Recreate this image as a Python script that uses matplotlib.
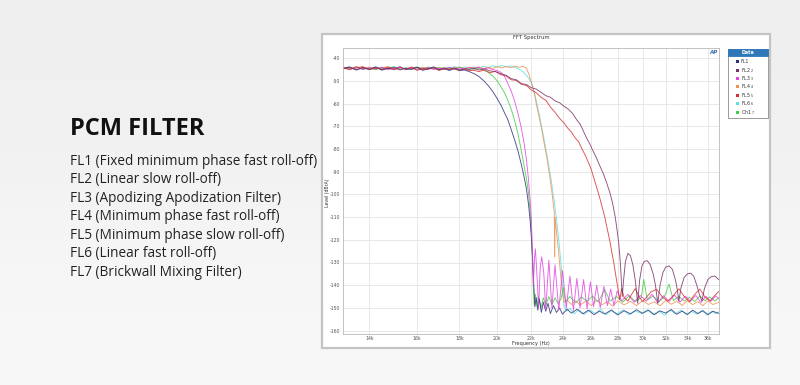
# =============================================================================
# plot.py
# PCM filter page: left text block + FFT spectrum panel of the 7 filters
# =============================================================================

import matplotlib
matplotlib.use("Agg")
import numpy as np
import matplotlib.pyplot as plt
from matplotlib.colors import LinearSegmentedColormap
from matplotlib.patches import Rectangle
from matplotlib.ticker import FixedLocator, NullLocator

# -----------------------------------------------------------------------------
# Data (frequency in kHz, level in dB)
# -----------------------------------------------------------------------------
SERIES_NAMES = ["FL1", "FL2", "FL3", "FL4", "FL5", "FL6", "Ch1"]
SERIES_INDEX = ["", "2", "3", "4", "5", "6", "7"]
SERIES_COLORS = ["#2e3378", "#7a3266", "#e245e2", "#f29050", "#d83030", "#58e2e2", "#44cc44"]

FILTER_LINES = [
    "FL1 (Fixed minimum phase fast roll-off)",
    "FL2 (Linear slow roll-off)",
    "FL3 (Apodizing Apodization Filter)",
    "FL4 (Minimum phase fast roll-off)",
    "FL5 (Minimum phase slow roll-off)",
    "FL6 (Linear fast roll-off)",
    "FL7 (Brickwall Mixing Filter)",
]

X_TICKS_KHZ = [14, 16, 18, 20, 22, 24, 26, 28, 30, 32, 34, 36]
X_TICK_LABELS = ["14k", "16k", "18k", "20k", "22k", "24k", "26k", "28k", "30k", "32k", "34k", "36k"]
Y_TICKS_DB = [-40, -50, -60, -70, -80, -90, -100, -110, -120, -130, -140, -150, -160]

# passband, shared by every curve
FLAT_KHZ = [13.0, 13.25, 13.5, 13.75, 14.0, 14.25, 14.5, 14.75, 15.0, 15.25, 15.5, 15.75,
            16.0, 16.25, 16.5, 16.75, 17.0, 17.25, 17.5, 17.75, 18.0, 18.25, 18.5]

FL1_FLAT_DB = [-44.6, -43.8, -45.2, -44.1, -45.0, -43.9, -45.3, -44.4, -44.9, -43.7, -45.1, -44.5,
               -44.0, -45.2, -44.6, -43.9, -45.0, -44.6, -45.4, -44.7, -45.5, -45.2, -45.9]
FL1_TAIL_KHZ = [18.75, 19.0, 19.25, 19.5, 19.75, 20.0, 20.2, 20.4, 20.6, 20.8, 21.0, 21.2, 21.4,
                21.55, 21.7, 21.82, 21.92, 22.0, 22.08, 22.15, 22.22, 22.3, 22.4, 22.5, 22.62,
                22.75, 22.9, 23.05, 23.2, 23.4, 23.6, 23.8, 24.0, 24.3, 24.6, 25.0, 25.4, 25.8,
                26.2, 26.6, 27.0, 27.5, 28.0, 28.5, 29.0, 29.5, 30.0, 30.5, 31.0, 31.5, 32.0,
                32.5, 33.0, 33.5, 34.0, 34.5, 35.0, 35.5, 36.0, 36.5, 37.1]
FL1_TAIL_DB = [-46.8, -48.0, -49.8, -52.0, -54.6, -57.8, -60.5, -63.8, -67.0, -71.5, -76.0, -81.0,
               -87.0, -92.0, -97.5, -104.0, -111.0, -119.0, -129.0, -140.0, -149.5, -145.5,
               -151.0, -146.0, -152.0, -147.5, -151.5, -148.0, -152.5, -149.0, -152.0, -150.0,
               -152.8, -150.5, -152.3, -150.6, -152.6, -151.0, -153.0, -151.4, -152.7, -150.9,
               -153.1, -151.2, -152.6, -150.8, -152.4, -151.0, -153.0, -151.3, -152.3, -150.7,
               -152.8, -151.4, -152.9, -151.0, -152.5, -151.2, -153.0, -151.5, -152.4]

FL2_FLAT_DB = [-44.6, -44.0, -45.1, -44.3, -44.8, -43.9, -45.0, -44.5, -44.1, -45.2, -44.4, -44.9,
               -44.0, -45.3, -44.7, -44.2, -45.1, -44.5, -44.9, -44.3, -45.2, -44.7, -45.0]
FL2_TAIL_KHZ = [18.75, 19.0, 19.3, 19.6, 19.9, 20.2, 20.5, 20.8, 21.1, 21.4, 21.7, 22.0, 22.3,
                22.6, 22.9, 23.2, 23.5, 23.8, 24.1, 24.4, 24.7, 24.95, 25.2, 25.4, 25.65, 25.9,
                26.1, 26.35, 26.6, 26.9, 27.15, 27.4, 27.6, 27.8, 27.95, 28.07, 28.17, 28.25,
                28.35, 28.45, 28.6, 28.8, 29.0, 29.2, 29.4, 29.6, 29.75, 29.95, 30.15, 30.4,
                30.65, 30.9, 31.1, 31.3, 31.5, 31.75, 32.0, 32.3, 32.6, 32.9, 33.05, 33.2, 33.4,
                33.7, 34.0, 34.3, 34.6, 34.9, 35.15, 35.4, 35.65, 36.0, 36.35, 36.7, 37.1]
FL2_TAIL_DB = [-44.4, -45.2, -44.7, -45.6, -45.9, -46.8, -47.5, -49.0, -49.5, -51.2, -51.6, -53.0,
               -53.6, -55.0, -56.5, -57.2, -58.8, -59.6, -61.2, -62.5, -64.5, -67.0, -69.0, -71.6,
               -75.0, -77.8, -80.5, -83.5, -87.0, -91.0, -95.0, -99.5, -104.0, -110.0, -116.0,
               -121.5, -128.0, -135.0, -145.0, -138.0, -129.5, -126.0, -127.0, -131.0, -138.0,
               -148.0, -138.0, -131.5, -129.5, -129.2, -131.0, -135.0, -140.0, -148.0, -140.0,
               -134.5, -132.0, -131.5, -133.0, -138.0, -142.0, -147.0, -141.0, -136.5, -135.0,
               -134.7, -136.0, -140.0, -144.0, -147.0, -141.5, -137.5, -136.2, -136.0, -137.5]

FL3_FLAT_DB = [-44.3, -44.9, -43.8, -45.0, -44.2, -44.7, -43.9, -45.1, -44.5, -44.0, -44.8, -44.3,
               -45.2, -44.6, -44.1, -45.0, -44.4, -44.8, -44.0, -44.9, -44.3, -44.6, -44.1]
FL3_TAIL_KHZ = [18.75, 19.0, 19.25, 19.5, 19.75, 20.0, 20.2, 20.4, 20.6, 20.8, 21.0, 21.2, 21.4,
                21.55, 21.7, 21.82, 21.92, 22.0, 22.05, 22.12, 22.2, 22.25, 22.32, 22.45, 22.55,
                22.65, 22.78, 22.9, 23.1, 23.3, 23.5, 23.75, 24.0, 24.25, 24.5, 24.74, 24.98,
                25.2, 25.45, 25.7, 25.94, 26.17, 26.4, 26.66, 26.93, 27.2, 27.45, 27.7, 27.95,
                28.3, 28.8, 29.3, 29.8, 30.3, 30.8, 31.3, 31.8, 32.3, 32.8, 33.3, 33.8, 34.3,
                34.8, 35.3, 35.8, 36.3, 36.8, 37.1]
FL3_TAIL_DB = [-44.5, -44.0, -44.8, -44.3, -45.0, -45.4, -46.2, -47.8, -51.0, -54.5, -59.0, -64.5,
               -71.0, -77.0, -84.5, -93.0, -102.0, -111.0, -121.0, -140.0, -128.0, -124.0,
               -132.0, -150.0, -132.0, -127.5, -135.0, -151.0, -129.0, -150.0, -131.0, -151.0,
               -133.5, -150.0, -136.0, -151.0, -137.0, -150.0, -137.5, -150.5, -138.5, -149.5,
               -140.0, -150.0, -140.5, -149.0, -141.7, -149.0, -142.5, -147.0, -144.0, -147.5,
               -144.5, -147.0, -144.0, -147.8, -144.6, -147.2, -144.3, -147.5, -144.8, -147.0,
               -144.5, -147.6, -144.9, -147.1, -144.7, -146.0]

FL4_FLAT_DB = [-44.0, -44.7, -43.6, -44.5, -43.9, -44.8, -44.2, -43.7, -44.6, -44.1, -44.9, -43.8,
               -44.4, -44.0, -44.7, -43.9, -44.5, -44.1, -44.8, -44.2, -43.9, -44.6, -44.0]
FL4_TAIL_KHZ = [18.75, 19.0, 19.25, 19.5, 19.75, 20.0, 20.25, 20.5, 20.75, 21.0, 21.25, 21.5,
                21.7, 21.85, 22.0, 22.15, 22.33, 22.5, 22.65, 22.8, 22.96, 23.1, 23.2, 23.3,
                23.4, 23.45, 23.48, 23.51, 23.6, 23.7, 23.8, 23.9, 24.0, 24.1, 24.3, 24.6, 24.9,
                25.2, 25.6, 26.0, 26.4, 26.8, 27.2, 27.6, 28.0, 28.5, 29.0, 29.5, 30.0, 30.5,
                31.0, 31.5, 32.0, 32.5, 33.0, 33.5, 34.0, 34.5, 35.0, 35.5, 36.0, 36.5, 37.1]
FL4_TAIL_DB = [-44.3, -43.8, -44.6, -44.0, -44.5, -43.7, -44.3, -43.6, -44.2, -43.5, -44.0, -43.6,
               -44.4, -47.0, -50.5, -54.5, -61.0, -66.5, -71.6, -77.5, -83.3, -89.5, -94.0, -99.0,
               -105.0, -108.0, -127.5, -110.0, -116.5, -123.0, -130.0, -137.5, -144.0, -147.5,
               -146.5, -148.5, -146.8, -148.8, -147.0, -149.0, -146.6, -148.6, -147.2, -149.2,
               -146.9, -148.7, -147.1, -149.0, -146.8, -148.5, -147.3, -149.1, -146.7, -148.4,
               -147.0, -148.9, -146.8, -148.6, -147.2, -149.0, -146.9, -148.5, -147.6]

FL5_FLAT_DB = [-44.1, -44.9, -44.3, -43.7, -45.0, -44.4, -44.8, -43.9, -45.1, -44.2, -44.7, -44.0,
               -45.3, -44.5, -44.9, -44.1, -45.4, -44.6, -45.0, -44.4, -45.2, -44.8, -45.5]
FL5_TAIL_KHZ = [18.75, 19.0, 19.3, 19.6, 19.9, 20.2, 20.5, 20.8, 21.1, 21.4, 21.7, 22.0, 22.3,
                22.6, 22.9, 23.2, 23.5, 23.8, 24.1, 24.35, 24.6, 24.85, 25.1, 25.3, 25.55, 25.8,
                26.0, 26.2, 26.4, 26.6, 26.8, 27.0, 27.2, 27.4, 27.55, 27.7, 27.85, 28.0, 28.07,
                28.15, 28.3, 28.5, 28.8, 29.1, 29.4, 29.7, 30.0, 30.3, 30.7, 31.2, 31.7, 32.2,
                32.7, 33.2, 33.7, 34.2, 34.7, 35.2, 35.7, 36.2, 36.7, 37.1]
FL5_TAIL_DB = [-45.3, -45.9, -45.2, -46.4, -45.8, -47.2, -47.8, -49.5, -49.8, -51.5, -52.0, -54.0,
               -55.2, -57.2, -58.5, -61.5, -63.8, -66.5, -68.5, -70.8, -72.5, -75.0, -76.8, -79.5,
               -82.5, -86.0, -89.0, -93.0, -97.0, -101.0, -105.5, -110.0, -115.5, -121.0, -126.0,
               -130.5, -136.0, -141.0, -144.0, -146.5, -141.5, -145.5, -147.0, -144.0, -141.5,
               -145.0, -147.2, -145.5, -143.0, -141.8, -145.2, -147.0, -144.5, -141.6, -145.0,
               -147.3, -144.0, -141.7, -145.2, -147.0, -144.5, -142.8]

FL6_FLAT_DB = [-44.5, -43.9, -44.8, -44.2, -45.0, -43.8, -44.6, -44.3, -43.7, -44.9, -44.1, -44.6,
               -43.8, -44.7, -44.2, -43.9, -44.6, -44.0, -44.4, -43.7, -44.3, -43.9, -44.2]
FL6_TAIL_KHZ = [18.75, 19.0, 19.25, 19.5, 19.75, 20.0, 20.25, 20.5, 20.75, 21.0, 21.25, 21.5,
                21.7, 21.85, 22.0, 22.15, 22.33, 22.5, 22.65, 22.8, 22.96, 23.1, 23.2, 23.3,
                23.45, 23.6, 23.75, 23.9, 24.0, 24.1, 24.25, 24.5, 24.8, 25.1, 25.5, 25.9, 26.3,
                26.7, 27.1, 27.5, 27.9, 28.4, 28.9, 29.4, 29.9, 30.4, 30.9, 31.4, 31.9, 32.4,
                32.9, 33.4, 33.9, 34.4, 34.9, 35.4, 35.9, 36.4, 36.8, 37.1]
FL6_TAIL_DB = [-43.8, -44.4, -43.5, -44.1, -43.3, -43.9, -43.2, -43.8, -43.4, -44.0, -44.8, -46.0,
               -47.5, -49.0, -51.0, -54.0, -59.5, -65.0, -70.5, -76.0, -82.0, -87.5, -91.5, -96.0,
               -103.0, -111.0, -120.0, -131.0, -140.0, -148.5, -151.5, -150.2, -152.6, -150.8,
               -152.9, -151.0, -152.4, -150.6, -153.0, -151.2, -152.7, -150.9, -153.1, -151.4,
               -152.5, -150.8, -152.9, -151.3, -153.2, -151.0, -152.6, -150.9, -153.0, -151.5,
               -152.8, -151.1, -153.1, -151.4, -152.6, -151.8]

CH1_FLAT_DB = [-44.2, -45.0, -43.9, -44.8, -44.3, -45.1, -44.0, -44.7, -43.8, -44.9, -44.4, -45.0,
               -44.2, -44.6, -43.9, -44.8, -44.1, -44.9, -44.3, -44.6, -44.0, -44.7, -44.4]
CH1_TAIL_KHZ = [18.75, 19.0, 19.25, 19.5, 19.75, 20.0, 20.2, 20.4, 20.6, 20.8, 21.0, 21.2, 21.4,
                21.55, 21.7, 21.82, 21.92, 22.0, 22.06, 22.12, 22.18, 22.25, 22.35, 22.45, 22.6,
                22.75, 22.9, 23.1, 23.3, 23.5, 23.7, 23.9, 24.05, 24.2, 24.5, 24.9, 25.3, 25.7,
                26.1, 26.5, 27.0, 27.4, 27.9, 28.4, 28.9, 29.4, 29.9, 30.1, 30.4, 30.9, 31.4,
                31.9, 32.3, 32.7, 33.2, 33.7, 34.2, 34.7, 35.2, 35.7, 36.2, 36.7, 37.1]
CH1_TAIL_DB = [-44.9, -44.5, -45.3, -46.2, -47.8, -50.0, -52.5, -55.0, -58.5, -62.5, -67.5, -73.5,
               -81.0, -87.0, -93.0, -99.0, -107.0, -116.0, -127.0, -140.0, -149.0, -144.0,
               -149.5, -145.0, -150.0, -145.5, -149.0, -145.0, -148.5, -145.5, -148.0, -146.0,
               -141.0, -147.5, -145.0, -147.8, -145.2, -147.0, -144.8, -147.4, -142.0, -147.0,
               -145.0, -147.5, -144.6, -147.2, -145.5, -137.5, -146.5, -144.8, -147.3, -145.0,
               -139.5, -146.8, -144.9, -147.0, -145.3, -147.2, -144.7, -146.9, -145.2, -147.0,
               -145.6]

SERIES_KHZ = [FL1_TAIL_KHZ, FL2_TAIL_KHZ, FL3_TAIL_KHZ, FL4_TAIL_KHZ, FL5_TAIL_KHZ,
              FL6_TAIL_KHZ, CH1_TAIL_KHZ]
SERIES_FLAT_DB = [FL1_FLAT_DB, FL2_FLAT_DB, FL3_FLAT_DB, FL4_FLAT_DB, FL5_FLAT_DB,
                  FL6_FLAT_DB, CH1_FLAT_DB]
SERIES_TAIL_DB = [FL1_TAIL_DB, FL2_TAIL_DB, FL3_TAIL_DB, FL4_TAIL_DB, FL5_TAIL_DB,
                  FL6_TAIL_DB, CH1_TAIL_DB]

# -----------------------------------------------------------------------------
# Layout helpers (pixel positions of the 800x385 picture)
# -----------------------------------------------------------------------------
W, H = 800, 385


def fx(x):
    return x / W


def fy(y):
    return 1 - y / H


def desenhar_fundo(fig):
    """Light grey page fading to near white at the bottom, and the chart card."""
    bg = fig.add_axes([0, 0, 1, 1], zorder=-10)
    bg.axis("off")
    cmap = LinearSegmentedColormap.from_list("fundo", ["#efefef", "#f3f3f3", "#f8f8f8"])
    bg.imshow([[0.0], [0.55], [1.0]], cmap=cmap, aspect="auto", interpolation="bicubic",
              extent=(0, 1, 0, 1))
    # chart card
    fig.add_artist(Rectangle((fx(322), fy(348)), 448 / W, 314 / H, transform=fig.transFigure,
                             facecolor="white", edgecolor="#c4c4c4", linewidth=1.6, zorder=-5))


def desenhar_texto(fig):
    fig.text(fx(70), fy(135), "PCM FILTER", fontsize=17, fontweight="bold",
             family="Open Sans", color="#111111", va="baseline")
    for i, linha in enumerate(FILTER_LINES):
        fig.text(fx(70), fy(165 + i * 18.5), linha, fontsize=9.8, family="Open Sans",
                 color="#222222", va="baseline")


def desenhar_espectro(fig):
    ax = fig.add_axes([fx(343), fy(334), 376 / W, 286 / H])
    ax.set_facecolor("white")

    order = [5, 3, 6, 0, 2, 4, 1]
    for i in order:
        ax.plot(FLAT_KHZ + SERIES_KHZ[i], SERIES_FLAT_DB[i] + SERIES_TAIL_DB[i],
                color=SERIES_COLORS[i], linewidth=0.65, alpha=0.85)

    ax.set_xscale("log")
    ax.set_xlim(13.01, 37.13)
    ax.set_ylim(-161.5, -35.5)
    ax.xaxis.set_major_locator(FixedLocator(X_TICKS_KHZ))
    ax.xaxis.set_minor_locator(NullLocator())
    ax.set_xticklabels(X_TICK_LABELS)
    ax.set_yticks(Y_TICKS_DB)
    ax.set_yticklabels([str(v) for v in Y_TICKS_DB])
    ax.tick_params(length=0, pad=1.8, labelsize=3.3, labelcolor="#555555")
    ax.grid(True, color="#e4e4e4", linewidth=0.6)
    for spine in ax.spines.values():
        spine.set_color("#b8b8b8")
        spine.set_linewidth(0.6)

    fig.text(fx(531), fy(37.5), "FFT Spectrum", fontsize=3.8, color="#333333",
             ha="center", va="center")
    fig.text(fx(327), fy(193), "Level (dBrA)", fontsize=3.3, color="#333333",
             rotation=90, ha="center", va="center")
    fig.text(fx(531), fy(343.5), "Frequency (Hz)", fontsize=3.6, color="#333333",
             ha="center", va="center")
    fig.text(fx(713), fy(53), "AP", fontsize=4, color="#3b6fb0", fontweight="bold",
             style="italic", ha="center", va="center")

    # legend box "Data"
    lg = fig.add_axes([fx(728.3), fy(118.3), 39.4 / W, 69.3 / H])
    lg.set_xlim(0, 39.4)
    lg.set_ylim(69.3, 0)
    lg.axis("off")
    lg.add_patch(Rectangle((0, 0), 39.4, 69.3, facecolor="white", edgecolor="#9a9a9a",
                           linewidth=0.7, clip_on=False))
    lg.add_patch(Rectangle((0, 0), 39.4, 7.0, facecolor="#2f78b8", edgecolor="#2f78b8",
                           linewidth=0.6, clip_on=False))
    lg.text(19.7, 3.6, "Data", fontsize=3.4, color="white", fontweight="bold",
            ha="center", va="center")
    for i, (nome, idx, cor) in enumerate(zip(SERIES_NAMES, SERIES_INDEX, SERIES_COLORS)):
        y = 12.7 + i * 8.43
        lg.add_patch(Rectangle((7.9, y - 1.5), 3.0, 3.0, facecolor=cor, edgecolor="none"))
        rotulo = nome if not idx else nome + r" $_{" + idx + "}$"
        lg.text(12.3, y, rotulo, fontsize=3.4, color="#333333", va="center")
    return ax


if __name__ == "__main__":
    fig = plt.figure(figsize=(8, 3.85), dpi=100, facecolor="#f1f1f1")
    desenhar_fundo(fig)
    desenhar_texto(fig)
    desenhar_espectro(fig)
    fig.savefig("out.png", dpi=100, facecolor=fig.get_facecolor())
